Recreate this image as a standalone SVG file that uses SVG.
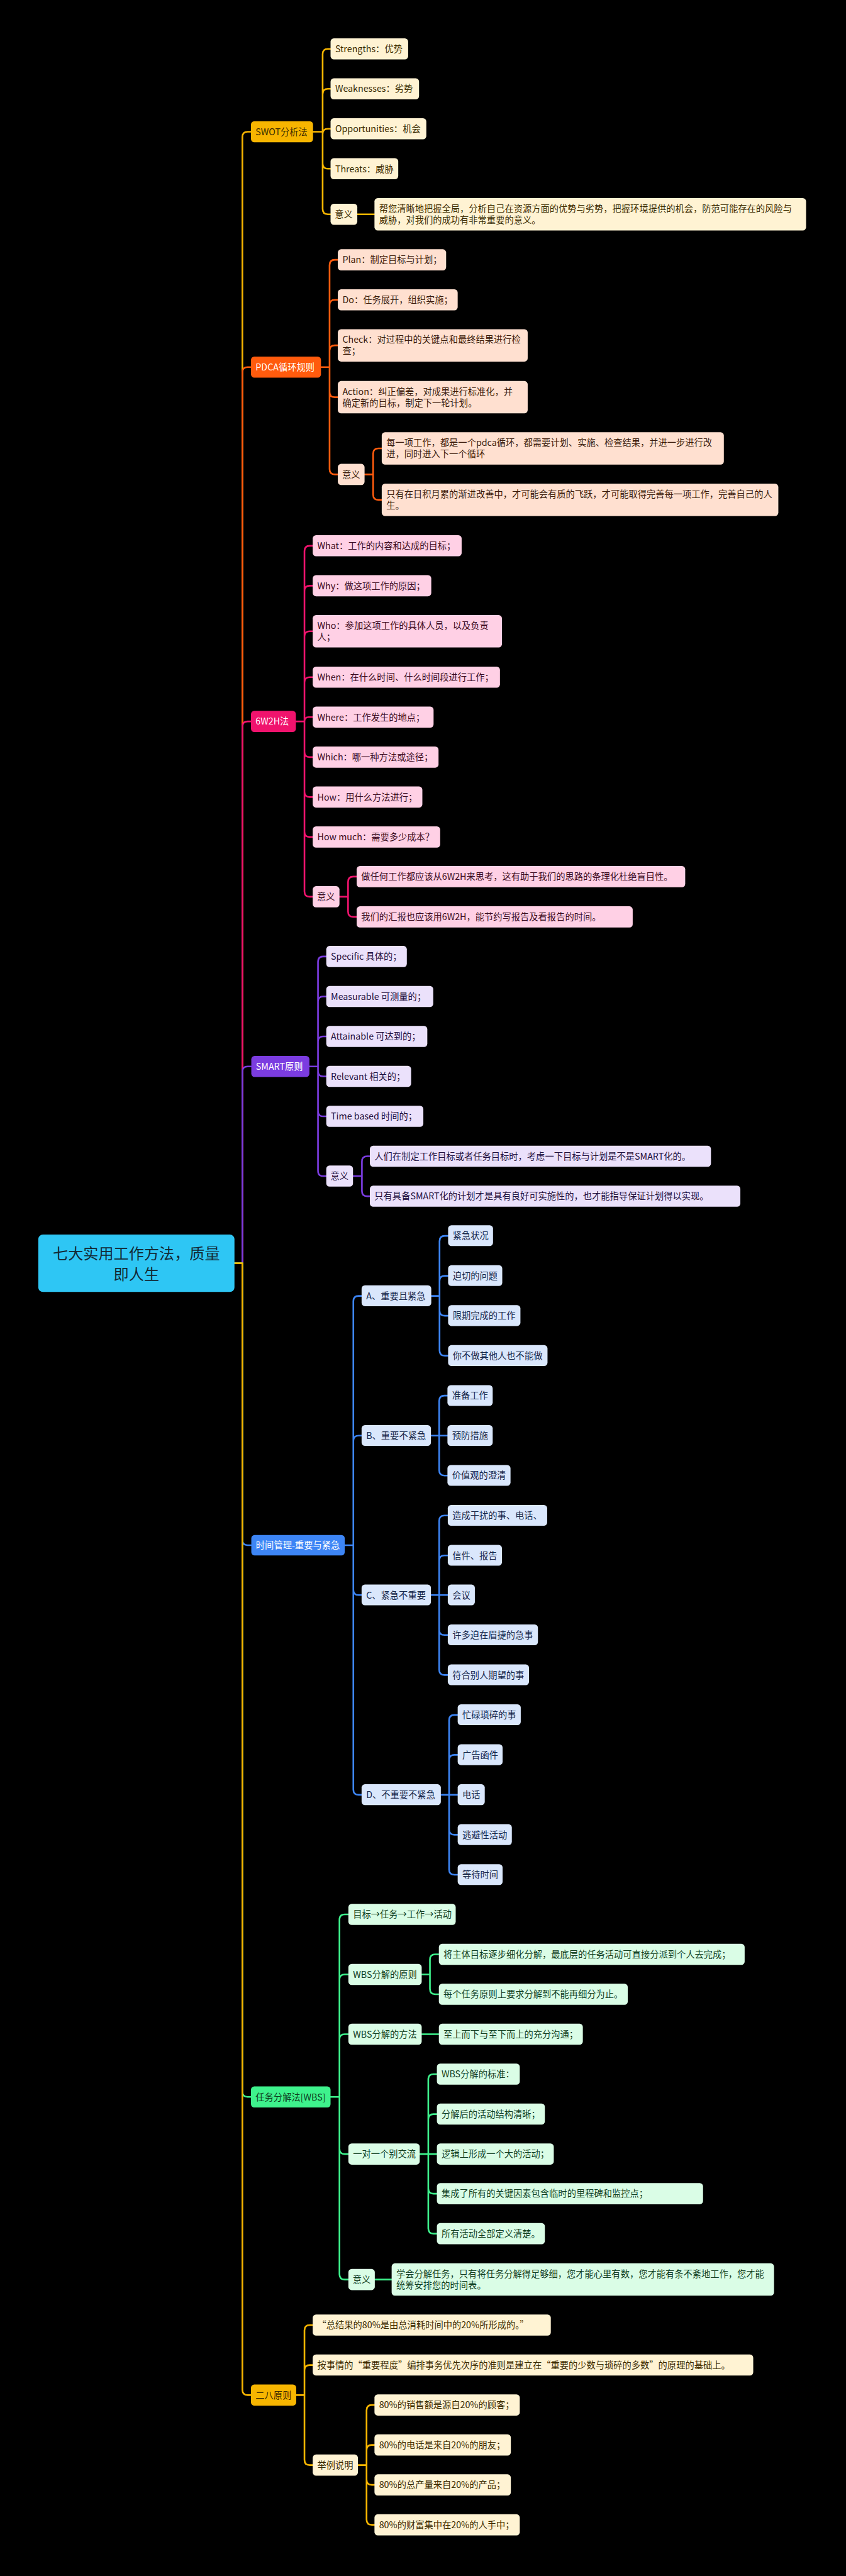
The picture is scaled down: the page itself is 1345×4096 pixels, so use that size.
<svg xmlns="http://www.w3.org/2000/svg" width="1345" height="4096" viewBox="0 0 1345 4096">
<style>
text{font-family:"Noto Sans CJK SC","Noto Sans",sans-serif;font-size:27.2px}
.c path{fill:none;stroke-width:5;stroke-linejoin:round;stroke-linecap:round}
.cg{stroke:#f7b500}.co{stroke:#ff5b0d}.cp{stroke:#f0136d}.cv{stroke:#7b3ce0}.cb{stroke:#3d85f5}.ce{stroke:#3ef28c}
.gm{fill:#f7b500}.gl{fill:#fff3d3}.om{fill:#ff5b0d}.ol{fill:#ffe0d0}.pm{fill:#f0136d}.pl{fill:#ffd0e5}
.vm{fill:#7b3ce0}.vl{fill:#ebe1fb}.bm{fill:#3d85f5}.bl{fill:#dae7fc}.em{fill:#3ef28c}.el{fill:#dafde6}
.tg{fill:#3a2a00}.to{fill:#3b1a0a}.tp{fill:#3b0a20}.tv{fill:#1f0f3d}.tb{fill:#15264a}.te{fill:#0f3d1e}.tw{fill:#ffffff}
</style>
<rect width="1345" height="4096" fill="#000"/>
<g transform="scale(0.525)">
<g id="connectors" class="c">
<path class="cg" d="M710 3826 H734 V415 Q734 399 750 399 H760"/>
<path class="co" d="M710 3826 H734 V1128 Q734 1112 750 1112 H760"/>
<path class="cp" d="M710 3826 H734 V2201 Q734 2185 750 2185 H760"/>
<path class="cv" d="M710 3826 H734 V3246 Q734 3230 750 3230 H760"/>
<path class="cb" d="M710 3826 H734 V4664 Q734 4680 750 4680 H760"/>
<path class="ce" d="M710 3826 H734 V6335 Q734 6351 750 6351 H760"/>
<path class="cg" d="M710 3826 H734 V7238 Q734 7254 750 7254 H760"/>
<path class="cg" d="M948 399 H977 V164 Q977 148 993 148 H1001 M948 399 H977 V285 Q977 269 993 269 H1001 M948 399 H977 V406 Q977 390 993 390 H1001 M948 399 H977 V495 Q977 511 993 511 H1001 M948 399 H977 V633 Q977 649 993 649 H1001 M1082 649 H1134"/>
<path class="co" d="M972 1112 H998 V803 Q998 787 1014 787 H1023 M972 1112 H998 V924 Q998 908 1014 908 H1023 M972 1112 H998 V1062 Q998 1046 1014 1046 H1023 M972 1112 H998 V1187 Q998 1203 1014 1203 H1023 M972 1112 H998 V1421 Q998 1437 1014 1437 H1023 M1104 1437 H1130 V1374 Q1130 1358 1146 1358 H1156 M1104 1437 H1130 V1498 Q1130 1514 1146 1514 H1156"/>
<path class="cp" d="M896 2185 H922 V1669 Q922 1653 938 1653 H947 M896 2185 H922 V1790 Q922 1774 938 1774 H947 M896 2185 H922 V1928 Q922 1912 938 1912 H947 M896 2185 H922 V2067 Q922 2051 938 2051 H947 M896 2185 H922 Q922 2172 935 2172 H947 M896 2185 H922 V2277 Q922 2293 938 2293 H947 M896 2185 H922 V2398 Q922 2414 938 2414 H947 M896 2185 H922 V2519 Q922 2535 938 2535 H947 M896 2185 H922 V2700 Q922 2716 938 2716 H947 M1028 2716 H1054 V2671 Q1054 2655 1070 2655 H1080 M1028 2716 H1054 V2761 Q1054 2777 1070 2777 H1080"/>
<path class="cv" d="M937 3230 H963 V2913 Q963 2897 979 2897 H988 M937 3230 H963 V3034 Q963 3018 979 3018 H988 M937 3230 H963 V3155 Q963 3139 979 3139 H988 M937 3230 H963 V3244 Q963 3260 979 3260 H988 M937 3230 H963 V3365 Q963 3381 979 3381 H988 M937 3230 H963 V3546 Q963 3562 979 3562 H988 M1069 3562 H1096 V3518 Q1096 3502 1112 3502 H1120 M1069 3562 H1096 V3607 Q1096 3623 1112 3623 H1120"/>
<path class="cb" d="M1044 4680 H1070 V3941 Q1070 3925 1086 3925 H1095 M1044 4680 H1070 V4364 Q1070 4348 1086 4348 H1095 M1044 4680 H1070 V4815 Q1070 4831 1086 4831 H1095 M1044 4680 H1070 V5420 Q1070 5436 1086 5436 H1095"/>
<path class="cb" d="M1306 3925 H1331 V3759 Q1331 3743 1347 3743 H1357 M1306 3925 H1331 V3880 Q1331 3864 1347 3864 H1357 M1306 3925 H1331 V3969 Q1331 3985 1347 3985 H1357 M1306 3925 H1331 V4090 Q1331 4106 1347 4106 H1357"/>
<path class="cb" d="M1305 4348 H1330 V4243 Q1330 4227 1346 4227 H1355 M1305 4348 H1355 M1305 4348 H1330 V4453 Q1330 4469 1346 4469 H1355"/>
<path class="cb" d="M1305 4831 H1330 V4606 Q1330 4590 1346 4590 H1356 M1305 4831 H1330 V4727 Q1330 4711 1346 4711 H1356 M1305 4831 H1356 M1305 4831 H1330 V4936 Q1330 4952 1346 4952 H1356 M1305 4831 H1330 V5057 Q1330 5073 1346 5073 H1356"/>
<path class="cb" d="M1335 5436 H1360 V5210 Q1360 5194 1376 5194 H1386 M1335 5436 H1386 M1335 5436 H1360 V5331 Q1360 5315 1376 5315 H1386 M1335 5436 H1360 V5541 Q1360 5557 1376 5557 H1386 M1335 5436 H1360 V5662 Q1360 5678 1376 5678 H1386"/>
<path class="ce" d="M1001 6351 H1028 V5814 Q1028 5798 1044 5798 H1055 M1001 6351 H1028 V5996 Q1028 5980 1044 5980 H1055 M1001 6351 H1028 V6177 Q1028 6161 1044 6161 H1055 M1001 6351 H1028 V6508 Q1028 6524 1044 6524 H1055 M1001 6351 H1028 V6888 Q1028 6904 1044 6904 H1055"/>
<path class="ce" d="M1277 5980 H1302 V5935 Q1302 5919 1318 5919 H1329 M1277 5980 H1302 V6024 Q1302 6040 1318 6040 H1329 M1277 6161 H1329 M1271 6524 H1297 V6298 Q1297 6282 1313 6282 H1323 M1271 6524 H1297 V6419 Q1297 6403 1313 6403 H1323 M1271 6524 H1323 M1271 6524 H1297 V6628 Q1297 6644 1313 6644 H1323 M1271 6524 H1297 V6749 Q1297 6765 1313 6765 H1323 M1135 6904 H1186"/>
<path class="cg" d="M897 7254 H922 V7058 Q922 7042 938 7042 H947 M897 7254 H922 V7179 Q922 7163 938 7163 H947 M897 7254 H922 V7450 Q922 7466 938 7466 H947 M1084 7466 H1110 V7300 Q1110 7284 1126 7284 H1134 M1084 7466 H1110 V7421 Q1110 7405 1126 7405 H1134 M1084 7466 H1110 V7510 Q1110 7526 1126 7526 H1134 M1084 7466 H1110 V7631 Q1110 7647 1126 7647 H1134"/>
</g>
<g id="root"><rect x="116" y="3739" width="594" height="174" rx="14" fill="#2ec6f4"/><text x="413" y="3814" text-anchor="middle" style="font-size:46px" fill="#132a36">七大实用工作方法，质量</text><text x="413" y="3877" text-anchor="middle" style="font-size:46px" fill="#132a36">即人生</text></g>

<g id="swot" class="tg"><rect class="gm" x="760" y="367" width="188" height="64" rx="10"/><text x="774" y="409">SWOT分析法</text></g>
<g id="swot-s" class="tg"><rect class="gl" x="1001" y="116" width="235" height="64" rx="10"/><text x="1015" y="158">Strengths：优势</text></g>
<g id="swot-w" class="tg"><rect class="gl" x="1001" y="237" width="268" height="64" rx="10"/><text x="1015" y="279">Weaknesses：劣势</text></g>
<g id="swot-o" class="tg"><rect class="gl" x="1001" y="358" width="290" height="64" rx="10"/><text x="1015" y="400">Opportunities：机会</text></g>
<g id="swot-t" class="tg"><rect class="gl" x="1001" y="479" width="205" height="64" rx="10"/><text x="1015" y="521">Threats：威胁</text></g>
<g id="swot-yy" class="tg"><rect class="gl" x="1001" y="617" width="81" height="64" rx="10"/><text x="1014" y="659">意义</text></g>
<g id="swot-yy1" class="tg"><rect class="gl" x="1134" y="600" width="1307" height="98" rx="10"/><text x="1148" y="642">帮您清晰地把握全局，分析自己在资源方面的优势与劣势，把握环境提供的机会，防范可能存在的风险与</text><text x="1148" y="676">威胁，对我们的成功有非常重要的意义。</text></g>

<g id="pdca" class="tw"><rect class="om" x="760" y="1080" width="212" height="64" rx="10"/><text x="774" y="1122">PDCA循环规则</text></g>
<g id="pdca-p" class="to"><rect class="ol" x="1023" y="755" width="328" height="64" rx="10"/><text x="1037" y="797">Plan：制定目标与计划；</text></g>
<g id="pdca-d" class="to"><rect class="ol" x="1023" y="876" width="363" height="64" rx="10"/><text x="1037" y="918">Do：任务展开，组织实施；</text></g>
<g id="pdca-c" class="to"><rect class="ol" x="1023" y="997" width="575" height="98" rx="10"/><text x="1037" y="1039">Check：对过程中的关键点和最终结果进行检</text><text x="1037" y="1073">查；</text></g>
<g id="pdca-a" class="to"><rect class="ol" x="1023" y="1154" width="575" height="98" rx="10"/><text x="1037" y="1196">Action：纠正偏差，对成果进行标准化，并</text><text x="1037" y="1230">确定新的目标，制定下一轮计划。</text></g>
<g id="pdca-yy" class="to"><rect class="ol" x="1023" y="1405" width="81" height="64" rx="10"/><text x="1036" y="1447">意义</text></g>
<g id="pdca-yy1" class="to"><rect class="ol" x="1156" y="1309" width="1036" height="98" rx="10"/><text x="1170" y="1351">每一项工作，都是一个pdca循环，都需要计划、实施、检查结果，并进一步进行改</text><text x="1170" y="1385">进，同时进入下一个循环</text></g>
<g id="pdca-yy2" class="to"><rect class="ol" x="1156" y="1465" width="1201" height="98" rx="10"/><text x="1170" y="1507">只有在日积月累的渐进改善中，才可能会有质的飞跃，才可能取得完善每一项工作，完善自己的人</text><text x="1170" y="1541">生。</text></g>

<g id="w6" class="tw"><rect class="pm" x="760" y="2153" width="136" height="64" rx="10"/><text x="774" y="2195">6W2H法</text></g>
<g id="w6-what" class="tp"><rect class="pl" x="947" y="1621" width="451" height="64" rx="10"/><text x="961" y="1663">What：工作的内容和达成的目标；</text></g>
<g id="w6-why" class="tp"><rect class="pl" x="947" y="1742" width="359" height="64" rx="10"/><text x="961" y="1784">Why：做这项工作的原因；</text></g>
<g id="w6-who" class="tp"><rect class="pl" x="947" y="1863" width="573" height="98" rx="10"/><text x="961" y="1905">Who：参加这项工作的具体人员，以及负责</text><text x="961" y="1939">人；</text></g>
<g id="w6-when" class="tp"><rect class="pl" x="947" y="2019" width="567" height="64" rx="10"/><text x="961" y="2061">When：在什么时间、什么时间段进行工作；</text></g>
<g id="w6-where" class="tp"><rect class="pl" x="947" y="2140" width="366" height="64" rx="10"/><text x="961" y="2182">Where：工作发生的地点；</text></g>
<g id="w6-which" class="tp"><rect class="pl" x="947" y="2261" width="381" height="64" rx="10"/><text x="961" y="2303">Which：哪一种方法或途径；</text></g>
<g id="w6-how" class="tp"><rect class="pl" x="947" y="2382" width="332" height="64" rx="10"/><text x="961" y="2424">How：用什么方法进行；</text></g>
<g id="w6-much" class="tp"><rect class="pl" x="947" y="2503" width="386" height="64" rx="10"/><text x="961" y="2545">How much：需要多少成本？</text></g>
<g id="w6-yy" class="tp"><rect class="pl" x="947" y="2684" width="81" height="64" rx="10"/><text x="960" y="2726">意义</text></g>
<g id="w6-yy1" class="tp"><rect class="pl" x="1080" y="2623" width="995" height="64" rx="10"/><text x="1094" y="2665">做任何工作都应该从6W2H来思考，这有助于我们的思路的条理化杜绝盲目性。</text></g>
<g id="w6-yy2" class="tp"><rect class="pl" x="1080" y="2745" width="836" height="64" rx="10"/><text x="1094" y="2787">我们的汇报也应该用6W2H，能节约写报告及看报告的时间。</text></g>

<g id="smart" class="tw"><rect class="vm" x="761" y="3198" width="176" height="64" rx="10"/><text x="775" y="3240">SMART原则</text></g>
<g id="smart-s" class="tv"><rect class="vl" x="988" y="2865" width="244" height="64" rx="10"/><text x="1002" y="2907">Specific 具体的；</text></g>
<g id="smart-m" class="tv"><rect class="vl" x="988" y="2986" width="324" height="64" rx="10"/><text x="1002" y="3028">Measurable 可测量的；</text></g>
<g id="smart-a" class="tv"><rect class="vl" x="988" y="3107" width="306" height="64" rx="10"/><text x="1002" y="3149">Attainable 可达到的；</text></g>
<g id="smart-r" class="tv"><rect class="vl" x="988" y="3228" width="257" height="64" rx="10"/><text x="1002" y="3270">Relevant 相关的；</text></g>
<g id="smart-t" class="tv"><rect class="vl" x="988" y="3349" width="294" height="64" rx="10"/><text x="1002" y="3391">Time based 时间的；</text></g>
<g id="smart-yy" class="tv"><rect class="vl" x="988" y="3530" width="81" height="64" rx="10"/><text x="1001" y="3572">意义</text></g>
<g id="smart-yy1" class="tv"><rect class="vl" x="1120" y="3470" width="1033" height="64" rx="10"/><text x="1134" y="3512">人们在制定工作目标或者任务目标时，考虑一下目标与计划是不是SMART化的。</text></g>
<g id="smart-yy2" class="tv"><rect class="vl" x="1120" y="3591" width="1122" height="64" rx="10"/><text x="1134" y="3633">只有具备SMART化的计划才是具有良好可实施性的，也才能指导保证计划得以实现。</text></g>

<g id="time" class="tw"><rect class="bm" x="761" y="4649" width="283" height="62" rx="10"/><text x="775" y="4690">时间管理-重要与紧急</text></g>
<g id="time-a" class="tb"><rect class="bl" x="1095" y="3893" width="211" height="63" rx="10"/><text x="1109" y="3935">A、重要且紧急</text></g>
<g id="time-a1" class="tb"><rect class="bl" x="1357" y="3711" width="136" height="63" rx="10"/><text x="1371" y="3753">紧急状况</text></g>
<g id="time-a2" class="tb"><rect class="bl" x="1357" y="3832" width="164" height="63" rx="10"/><text x="1371" y="3874">迫切的问题</text></g>
<g id="time-a3" class="tb"><rect class="bl" x="1357" y="3953" width="219" height="63" rx="10"/><text x="1371" y="3995">限期完成的工作</text></g>
<g id="time-a4" class="tb"><rect class="bl" x="1357" y="4074" width="301" height="63" rx="10"/><text x="1371" y="4116">你不做其他人也不能做</text></g>
<g id="time-b" class="tb"><rect class="bl" x="1095" y="4316" width="210" height="63" rx="10"/><text x="1109" y="4358">B、重要不紧急</text></g>
<g id="time-b1" class="tb"><rect class="bl" x="1355" y="4195" width="137" height="63" rx="10"/><text x="1369" y="4237">准备工作</text></g>
<g id="time-b2" class="tb"><rect class="bl" x="1355" y="4316" width="137" height="63" rx="10"/><text x="1369" y="4358">预防措施</text></g>
<g id="time-b3" class="tb"><rect class="bl" x="1355" y="4437" width="191" height="63" rx="10"/><text x="1369" y="4479">价值观的澄清</text></g>
<g id="time-c" class="tb"><rect class="bl" x="1095" y="4799" width="210" height="63" rx="10"/><text x="1109" y="4841">C、紧急不重要</text></g>
<g id="time-c1" class="tb"><rect class="bl" x="1356" y="4558" width="301" height="63" rx="10"/><text x="1370" y="4600">造成干扰的事、电话、</text></g>
<g id="time-c2" class="tb"><rect class="bl" x="1356" y="4679" width="164" height="63" rx="10"/><text x="1370" y="4721">信件、报告</text></g>
<g id="time-c3" class="tb"><rect class="bl" x="1356" y="4799" width="82" height="63" rx="10"/><text x="1370" y="4841">会议</text></g>
<g id="time-c4" class="tb"><rect class="bl" x="1356" y="4920" width="273" height="63" rx="10"/><text x="1370" y="4962">许多迫在眉捷的急事</text></g>
<g id="time-c5" class="tb"><rect class="bl" x="1356" y="5041" width="246" height="63" rx="10"/><text x="1370" y="5083">符合别人期望的事</text></g>
<g id="time-d" class="tb"><rect class="bl" x="1095" y="5404" width="240" height="63" rx="10"/><text x="1109" y="5446">D、不重要不紧急</text></g>
<g id="time-d1" class="tb"><rect class="bl" x="1386" y="5162" width="191" height="63" rx="10"/><text x="1400" y="5204">忙碌琐碎的事</text></g>
<g id="time-d2" class="tb"><rect class="bl" x="1386" y="5283" width="136" height="63" rx="10"/><text x="1400" y="5325">广告函件</text></g>
<g id="time-d3" class="tb"><rect class="bl" x="1386" y="5404" width="82" height="63" rx="10"/><text x="1400" y="5446">电话</text></g>
<g id="time-d4" class="tb"><rect class="bl" x="1386" y="5525" width="164" height="63" rx="10"/><text x="1400" y="5567">逃避性活动</text></g>
<g id="time-d5" class="tb"><rect class="bl" x="1386" y="5646" width="136" height="63" rx="10"/><text x="1400" y="5688">等待时间</text></g>

<g id="wbs" class="te"><rect class="em" x="760" y="6319" width="241" height="64" rx="10"/><text x="774" y="6361">任务分解法[WBS]</text></g>
<g id="wbs-1" class="te"><rect class="el" x="1055" y="5766" width="325" height="64" rx="10"/><text x="1069" y="5808">目标→任务→工作→活动</text></g>
<g id="wbs-2" class="te"><rect class="el" x="1055" y="5948" width="222" height="64" rx="10"/><text x="1069" y="5990">WBS分解的原则</text></g>
<g id="wbs-21" class="te"><rect class="el" x="1329" y="5887" width="926" height="64" rx="10"/><text x="1343" y="5929">将主体目标逐步细化分解，最底层的任务活动可直接分派到个人去完成；</text></g>
<g id="wbs-22" class="te"><rect class="el" x="1329" y="6008" width="572" height="64" rx="10"/><text x="1343" y="6050">每个任务原则上要求分解到不能再细分为止。</text></g>
<g id="wbs-3" class="te"><rect class="el" x="1055" y="6129" width="222" height="64" rx="10"/><text x="1069" y="6171">WBS分解的方法</text></g>
<g id="wbs-31" class="te"><rect class="el" x="1329" y="6129" width="436" height="64" rx="10"/><text x="1343" y="6171">至上而下与至下而上的充分沟通；</text></g>
<g id="wbs-4" class="te"><rect class="el" x="1055" y="6492" width="216" height="64" rx="10"/><text x="1069" y="6534">一对一个别交流</text></g>
<g id="wbs-41" class="te"><rect class="el" x="1323" y="6250" width="251" height="64" rx="10"/><text x="1337" y="6292">WBS分解的标准：</text></g>
<g id="wbs-42" class="te"><rect class="el" x="1323" y="6371" width="327" height="64" rx="10"/><text x="1337" y="6413">分解后的活动结构清晰；</text></g>
<g id="wbs-43" class="te"><rect class="el" x="1323" y="6492" width="354" height="64" rx="10"/><text x="1337" y="6534">逻辑上形成一个大的活动；</text></g>
<g id="wbs-44" class="te"><rect class="el" x="1323" y="6612" width="806" height="64" rx="10"/><text x="1337" y="6654">集成了所有的关键因素包含临时的里程碑和监控点；</text></g>
<g id="wbs-45" class="te"><rect class="el" x="1323" y="6733" width="327" height="64" rx="10"/><text x="1337" y="6775">所有活动全部定义清楚。</text></g>
<g id="wbs-yy" class="te"><rect class="el" x="1055" y="6872" width="80" height="64" rx="10"/><text x="1068" y="6914">意义</text></g>
<g id="wbs-yy1" class="te"><rect class="el" x="1186" y="6855" width="1158" height="98" rx="10"/><text x="1200" y="6897">学会分解任务，只有将任务分解得足够细，您才能心里有数，您才能有条不紊地工作，您才能</text><text x="1200" y="6931">统筹安排您的时间表。</text></g>

<g id="p28" class="tg"><rect class="gm" x="760" y="7222" width="137" height="64" rx="10"/><text x="774" y="7264">二八原则</text></g>
<g id="p28-1" class="tg"><rect class="gl" x="947" y="7010" width="721" height="64" rx="10"/><text x="961" y="7052">“总结果的80%是由总消耗时间中的20%所形成的。”</text></g>
<g id="p28-2" class="tg"><rect class="gl" x="947" y="7131" width="1334" height="64" rx="10"/><text x="961" y="7173">按事情的“重要程度”编排事务优先次序的准则是建立在“重要的少数与琐碎的多数”的原理的基础上。</text></g>
<g id="p28-3" class="tg"><rect class="gl" x="947" y="7434" width="137" height="64" rx="10"/><text x="961" y="7476">举例说明</text></g>
<g id="p28-31" class="tg"><rect class="gl" x="1134" y="7252" width="440" height="64" rx="10"/><text x="1148" y="7294">80%的销售额是源自20%的顾客；</text></g>
<g id="p28-32" class="tg"><rect class="gl" x="1134" y="7373" width="413" height="64" rx="10"/><text x="1148" y="7415">80%的电话是来自20%的朋友；</text></g>
<g id="p28-33" class="tg"><rect class="gl" x="1134" y="7494" width="413" height="64" rx="10"/><text x="1148" y="7536">80%的总产量来自20%的产品；</text></g>
<g id="p28-34" class="tg"><rect class="gl" x="1134" y="7615" width="440" height="64" rx="10"/><text x="1148" y="7657">80%的财富集中在20%的人手中；</text></g>
</g>
</svg>
